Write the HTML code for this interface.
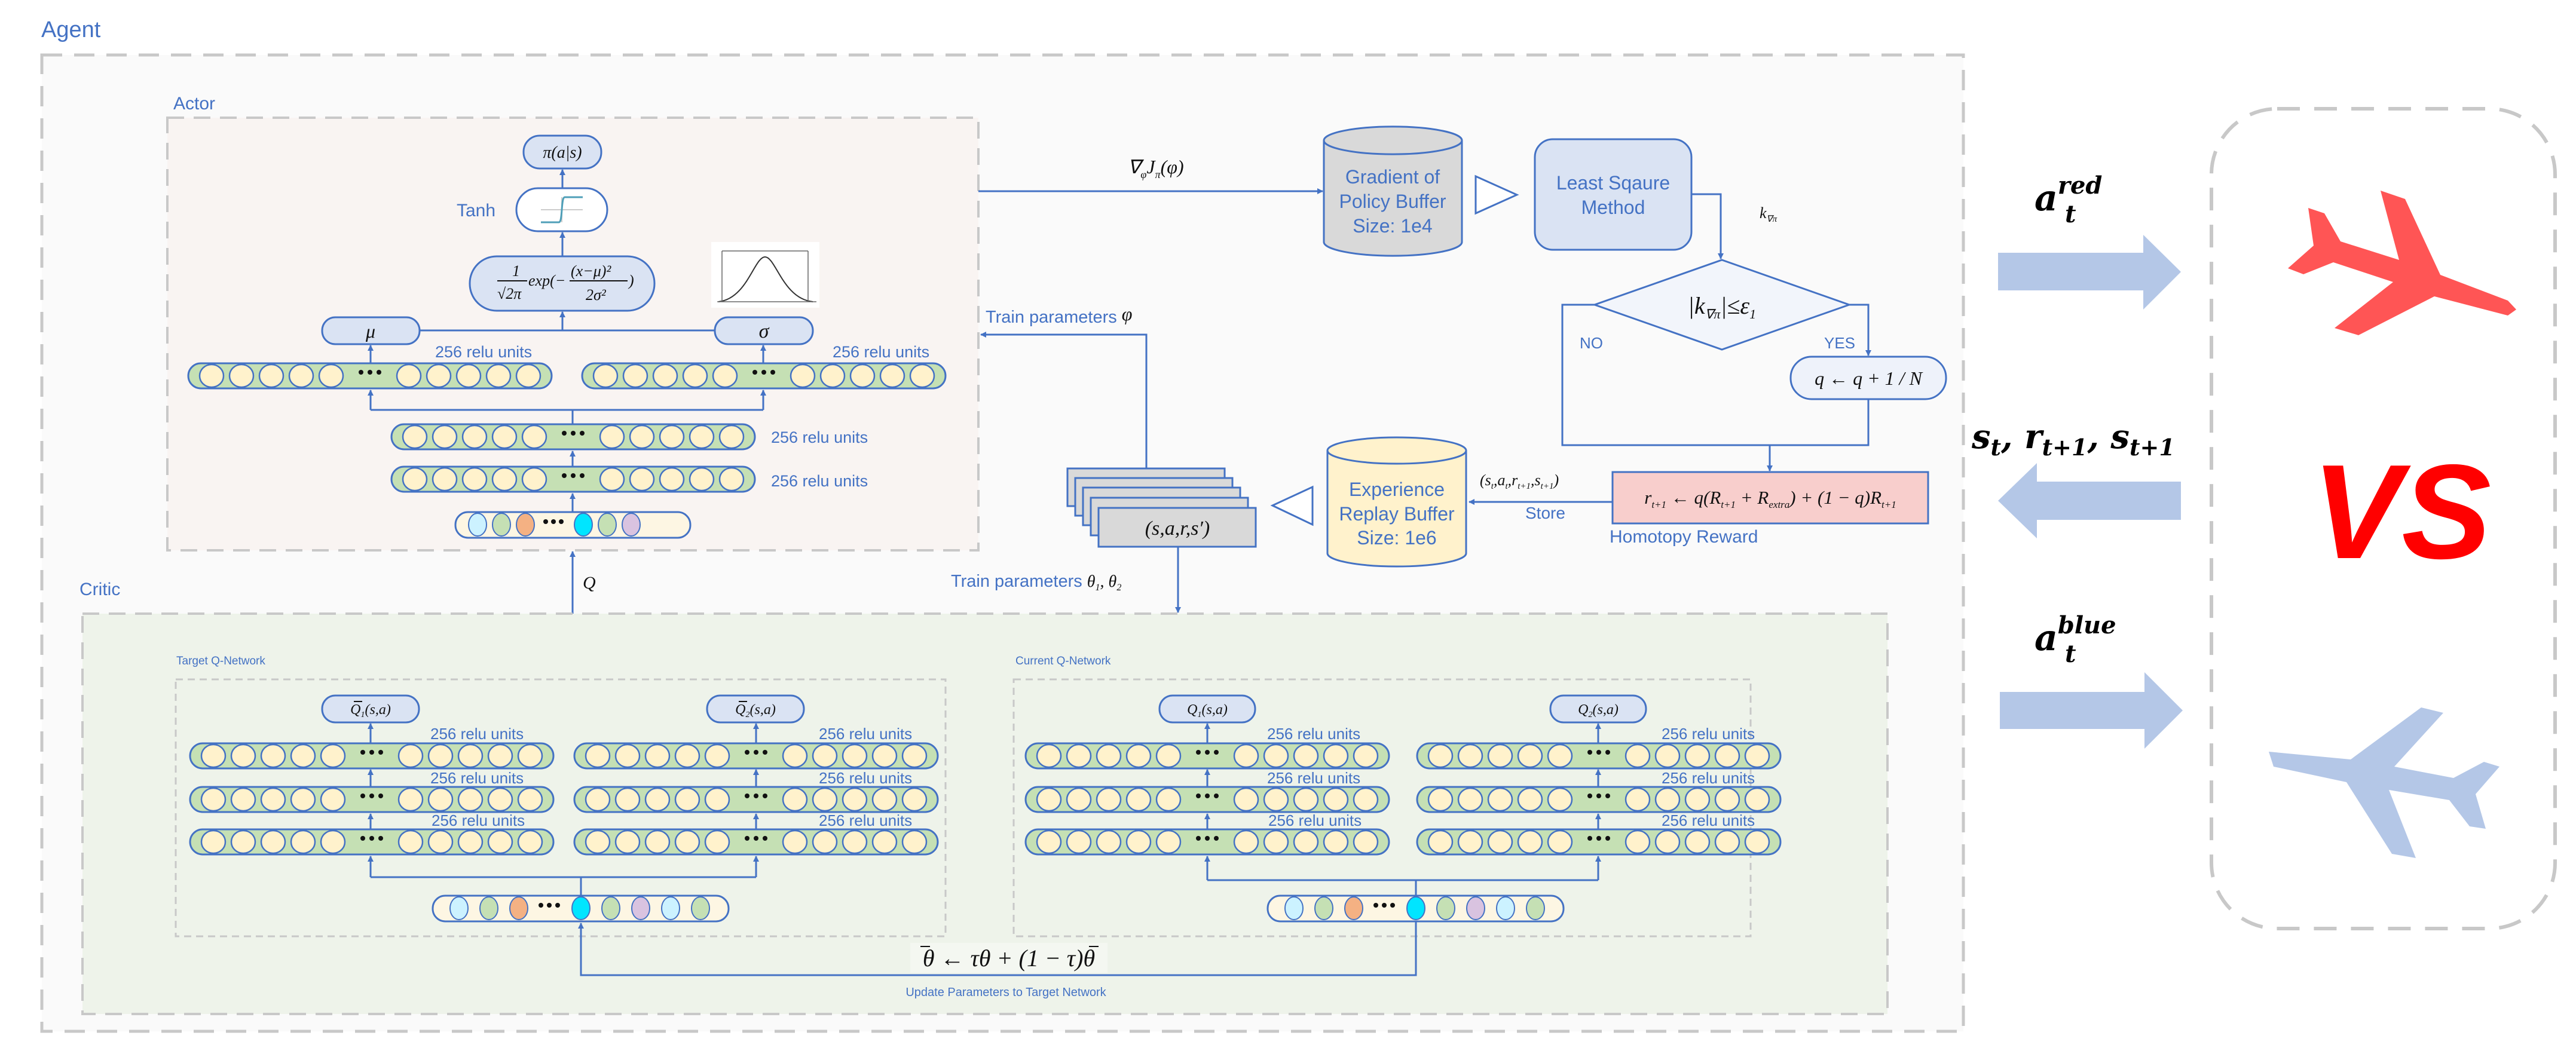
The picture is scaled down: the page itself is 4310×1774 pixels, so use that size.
<!DOCTYPE html>
<html><head><meta charset="utf-8"><style>
html,body{margin:0;padding:0;background:#fff}
svg{display:block}
.s{font-family:"Liberation Sans Narrow","Liberation Sans",sans-serif;fill:#4472c4}
.m{font-family:"Liberation Serif",serif;font-style:italic;fill:#111}
</style></head><body>
<svg width="4310" height="1774" viewBox="0 0 4310 1774" xmlns="http://www.w3.org/2000/svg">
<defs>
<marker id="ar" markerWidth="10" markerHeight="10" refX="9" refY="5" orient="auto" markerUnits="userSpaceOnUse" viewBox="0 0 10 10"><path d="M0,0 L10,5 L0,10 z" fill="#4472c4"/></marker>
<g id="layer">
<rect x="1" y="1" width="608" height="42" rx="21" fill="#c5e0b4" stroke="#4472c4" stroke-width="3"/>
<g fill="#fff2cc" stroke="#4472c4" stroke-width="2.5">
<ellipse cx="40" cy="22" rx="20" ry="19"/><ellipse cx="90" cy="22" rx="20" ry="19"/><ellipse cx="140" cy="22" rx="20" ry="19"/><ellipse cx="190" cy="22" rx="20" ry="19"/><ellipse cx="240" cy="22" rx="20" ry="19"/>
<ellipse cx="370" cy="22" rx="20" ry="19"/><ellipse cx="420" cy="22" rx="20" ry="19"/><ellipse cx="470" cy="22" rx="20" ry="19"/><ellipse cx="520" cy="22" rx="20" ry="19"/><ellipse cx="570" cy="22" rx="20" ry="19"/>
</g>
<g fill="#111"><circle cx="290" cy="16" r="4"/><circle cx="305" cy="16" r="4"/><circle cx="320" cy="16" r="4"/></g>
</g>
<g id="inA">
<rect x="1" y="1" width="393" height="43" rx="21" fill="#fdf6e3" stroke="#4472c4" stroke-width="3"/>
<g stroke="#4472c4" stroke-width="2">
<ellipse cx="38" cy="22" rx="15" ry="19" fill="#ccf2ff"/><ellipse cx="78" cy="22" rx="15" ry="19" fill="#c5e0b4"/><ellipse cx="118" cy="22" rx="15" ry="19" fill="#f4b183"/>
<ellipse cx="215" cy="22" rx="15" ry="19" fill="#00e5ff"/><ellipse cx="255" cy="22" rx="15" ry="19" fill="#c5e0b4"/><ellipse cx="295" cy="22" rx="15" ry="19" fill="#d9c3e0"/>
</g>
<g fill="#111"><circle cx="152" cy="17" r="4"/><circle cx="165" cy="17" r="4"/><circle cx="178" cy="17" r="4"/></g>
</g>
<g id="inC">
<rect x="1" y="1" width="495" height="43" rx="21" fill="#fdf6e3" stroke="#4472c4" stroke-width="3"/>
<g stroke="#4472c4" stroke-width="2">
<ellipse cx="45" cy="22" rx="15" ry="19" fill="#ccf2ff"/><ellipse cx="95" cy="22" rx="15" ry="19" fill="#c5e0b4"/><ellipse cx="145" cy="22" rx="15" ry="19" fill="#f4b183"/>
<ellipse cx="249" cy="22" rx="15" ry="19" fill="#00e5ff"/><ellipse cx="299" cy="22" rx="15" ry="19" fill="#c5e0b4"/><ellipse cx="349" cy="22" rx="15" ry="19" fill="#d9c3e0"/>
<ellipse cx="399" cy="22" rx="15" ry="19" fill="#ccf2ff"/><ellipse cx="449" cy="22" rx="15" ry="19" fill="#c5e0b4"/>
</g>
<g fill="#111"><circle cx="182" cy="17" r="4"/><circle cx="196" cy="17" r="4"/><circle cx="210" cy="17" r="4"/></g>
</g>
</defs>

<text x="69" y="62" class="s" font-size="38">Agent</text>
<rect x="70" y="92" width="3215" height="1634" fill="#fafafa" stroke="#c8c8c8" stroke-width="5" stroke-dasharray="34,20"/>

<text x="290" y="183" class="s" font-size="30">Actor</text>
<rect x="280" y="197" width="1357" height="724" fill="#f9f4f2" stroke="#c8c8c8" stroke-width="4" stroke-dasharray="28,16"/>
<rect x="876" y="227" width="130" height="55" rx="27" fill="#dae3f3" stroke="#4472c4" stroke-width="3"/>
<text x="941" y="264" class="m" font-size="28" text-anchor="middle">π(a|s)</text>
<line x1="941" y1="315" x2="941" y2="284" stroke="#4472c4" stroke-width="3" marker-end="url(#ar)"/>
<rect x="864" y="315" width="152" height="72" rx="36" fill="#fff" stroke="#4472c4" stroke-width="3"/>
<path d="M905,351 H975 M940,330 V372" stroke="#ccc" stroke-width="2"/>
<path d="M905,372 H935 C942,372 938,330 945,330 H975" fill="none" stroke="#4f9fb8" stroke-width="3"/>
<text x="764" y="362" class="s" font-size="30">Tanh</text>
<line x1="941" y1="429" x2="941" y2="389" stroke="#4472c4" stroke-width="3" marker-end="url(#ar)"/>
<rect x="786" y="429" width="309" height="91" rx="45" fill="#dae3f3" stroke="#4472c4" stroke-width="3"/>
<text x="857" y="462" class="m" font-size="26" font-style="normal">1</text>
<line x1="832" y1="470" x2="882" y2="470" stroke="#111" stroke-width="2"/>
<text x="832" y="500" class="m" font-size="26">√2π</text>
<text x="884" y="478" class="m" font-size="26" font-style="normal">exp(−</text>
<text x="955" y="462" class="m" font-size="26">(x−μ)²</text>
<line x1="953" y1="470" x2="1050" y2="470" stroke="#111" stroke-width="2"/>
<text x="980" y="502" class="m" font-size="26">2σ²</text>
<text x="1052" y="478" class="m" font-size="26" font-style="normal">)</text>
<rect x="1190" y="405" width="181" height="110" fill="#fff"/>
<path d="M1202,505 C1250,500 1262,430 1280,430 C1298,430 1310,500 1360,505" fill="none" stroke="#333" stroke-width="2"/>
<path d="M1200,505 H1366 M1208,420 V505 M1352,420 V505 M1208,420 H1352" fill="none" stroke="#666" stroke-width="1.5"/>
<rect x="539" y="531" width="163" height="45" rx="22" fill="#dae3f3" stroke="#4472c4" stroke-width="3"/>
<text x="620" y="565" class="m" font-size="32" text-anchor="middle">μ</text>
<rect x="1196" y="531" width="164" height="45" rx="22" fill="#dae3f3" stroke="#4472c4" stroke-width="3"/>
<text x="1278" y="565" class="m" font-size="34" text-anchor="middle">σ</text>
<line x1="702" y1="553" x2="1196" y2="553" stroke="#4472c4" stroke-width="3"/>
<line x1="941" y1="553" x2="941" y2="522" stroke="#4472c4" stroke-width="3" marker-end="url(#ar)"/>
<line x1="620" y1="607" x2="620" y2="578" stroke="#4472c4" stroke-width="3" marker-end="url(#ar)"/>
<line x1="1277" y1="607" x2="1277" y2="578" stroke="#4472c4" stroke-width="3" marker-end="url(#ar)"/>
<text x="728" y="598" class="s" font-size="27">256 relu units</text>
<text x="1393" y="598" class="s" font-size="27">256 relu units</text>
<use href="#layer" x="314" y="607"/>
<use href="#layer" x="973" y="607"/>
<path d="M958,709 V686 M620,686 H1277" stroke="#4472c4" stroke-width="3" fill="none"/>
<line x1="620" y1="686" x2="620" y2="653" stroke="#4472c4" stroke-width="3" marker-end="url(#ar)"/>
<line x1="1277" y1="686" x2="1277" y2="653" stroke="#4472c4" stroke-width="3" marker-end="url(#ar)"/>
<use href="#layer" x="654" y="709"/>
<text x="1290" y="741" class="s" font-size="27">256 relu units</text>
<line x1="958" y1="780" x2="958" y2="755" stroke="#4472c4" stroke-width="3" marker-end="url(#ar)"/>
<use href="#layer" x="654" y="780"/>
<text x="1290" y="814" class="s" font-size="27">256 relu units</text>
<line x1="958" y1="856" x2="958" y2="826" stroke="#4472c4" stroke-width="3" marker-end="url(#ar)"/>
<use href="#inA" x="761" y="856"/>
<line x1="958" y1="1027" x2="958" y2="923" stroke="#4472c4" stroke-width="3" marker-end="url(#ar)"/>
<text x="975" y="985" class="m" font-size="30">Q</text>

<line x1="1637" y1="320" x2="2213" y2="320" stroke="#4472c4" stroke-width="3" marker-end="url(#ar)"/>
<text x="1887" y="290" class="m" font-size="32">∇<tspan font-size="18" dy="8">φ</tspan><tspan dy="-8">J</tspan><tspan font-size="18" dy="8">π</tspan><tspan dy="-8">(φ)</tspan></text>
<path d="M2215,235 V405 A115,23 0 0 0 2446,405 V235 A115,23 0 0 0 2215,235 Z" fill="#d9d9d9" stroke="#4472c4" stroke-width="3"/>
<path d="M2215,235 A115,23 0 0 0 2446,235" fill="none" stroke="#4472c4" stroke-width="3"/>
<text x="2330" y="307" class="s" font-size="32" text-anchor="middle">Gradient of</text>
<text x="2330" y="348" class="s" font-size="32" text-anchor="middle">Policy Buffer</text>
<text x="2330" y="389" class="s" font-size="32" text-anchor="middle">Size: 1e4</text>
<path d="M2469,295 L2538,326 L2469,357 Z" fill="#fff" stroke="#4472c4" stroke-width="3"/>
<rect x="2568" y="233" width="262" height="185" rx="30" fill="#dae3f3" stroke="#4472c4" stroke-width="3"/>
<text x="2699" y="317" class="s" font-size="32" text-anchor="middle">Least Sqaure</text>
<text x="2699" y="358" class="s" font-size="32" text-anchor="middle">Method</text>
<path d="M2830,325 H2879 V433" fill="none" stroke="#4472c4" stroke-width="3" marker-end="url(#ar)"/>
<text x="2944" y="365" class="m" font-size="26">k<tspan font-size="15" dy="6">∇π</tspan></text>
<path d="M2881,435 L3094,510 L2881,585 L2668,510 Z" fill="#f2f5fb" stroke="#4472c4" stroke-width="3"/>
<text x="2881" y="525" class="m" font-size="40" text-anchor="middle">|k<tspan font-size="22" dy="8">∇π</tspan><tspan dy="-8">|≤ε</tspan><tspan font-size="22" dy="8">1</tspan></text>
<path d="M2668,510 H2614 V745 H3126 V668" fill="none" stroke="#4472c4" stroke-width="3"/>
<path d="M3094,510 H3126 V595" fill="none" stroke="#4472c4" stroke-width="3" marker-end="url(#ar)"/>
<text x="2643" y="583" class="s" font-size="26">NO</text>
<text x="3052" y="583" class="s" font-size="26">YES</text>
<rect x="2996" y="597" width="260" height="71" rx="35" fill="#eef2fa" stroke="#4472c4" stroke-width="3"/>
<text x="3126" y="644" class="m" font-size="32" text-anchor="middle">q ← q + 1 / N</text>
<line x1="2961" y1="745" x2="2961" y2="788" stroke="#4472c4" stroke-width="3" marker-end="url(#ar)"/>
<rect x="2698" y="790" width="528" height="86" fill="#f8cecc" stroke="#4472c4" stroke-width="3"/>
<text x="2962" y="843" class="m" font-size="31" text-anchor="middle">r<tspan font-size="17" dy="7">t+1</tspan><tspan dy="-7"> ← q(R</tspan><tspan font-size="17" dy="7">t+1</tspan><tspan dy="-7"> + R</tspan><tspan font-size="17" dy="7">extra</tspan><tspan dy="-7">) + (1 − q)R</tspan><tspan font-size="17" dy="7">t+1</tspan></text>
<text x="2693" y="908" class="s" font-size="30">Homotopy Reward</text>
<line x1="2698" y1="840" x2="2458" y2="840" stroke="#4472c4" stroke-width="3" marker-end="url(#ar)"/>
<text x="2552" y="868" class="s" font-size="28">Store</text>
<text x="2476" y="812" class="m" font-size="26">(s<tspan font-size="15" dy="6">t</tspan><tspan dy="-6">,a</tspan><tspan font-size="15" dy="6">t</tspan><tspan dy="-6">,r</tspan><tspan font-size="15" dy="6">t+1</tspan><tspan dy="-6">,s</tspan><tspan font-size="15" dy="6">t+1</tspan><tspan dy="-6">)</tspan></text>
<path d="M2221,754 V926 A116,22 0 0 0 2453,926 V754 A116,22 0 0 0 2221,754 Z" fill="#fff2cc" stroke="#4472c4" stroke-width="3"/>
<path d="M2221,754 A116,22 0 0 0 2453,754" fill="none" stroke="#4472c4" stroke-width="3"/>
<text x="2337" y="830" class="s" font-size="32" text-anchor="middle">Experience</text>
<text x="2337" y="871" class="s" font-size="32" text-anchor="middle">Replay Buffer</text>
<text x="2337" y="911" class="s" font-size="32" text-anchor="middle">Size: 1e6</text>
<path d="M2196,815 L2129,846 L2196,878 Z" fill="#fff" stroke="#4472c4" stroke-width="3"/>
<g fill="#d9d9d9" stroke="#4472c4" stroke-width="3">
<rect x="1786" y="784" width="263" height="63"/>
<rect x="1799" y="800" width="263" height="63"/>
<rect x="1812" y="816" width="263" height="63"/>
<rect x="1825" y="833" width="263" height="63"/>
<rect x="1838" y="850" width="263" height="65"/>
</g>
<text x="1970" y="895" class="m" font-size="34" text-anchor="middle">(s,a,r,s′)</text>
<path d="M1918,784 V560 H1641" fill="none" stroke="#4472c4" stroke-width="3" marker-end="url(#ar)"/>
<text x="1649" y="540" class="s" font-size="29">Train parameters <tspan class="m" font-size="32" dy="-4">φ</tspan></text>
<line x1="1971" y1="915" x2="1971" y2="1025" stroke="#4472c4" stroke-width="3" marker-end="url(#ar)"/>
<text x="1591" y="982" class="s" font-size="29">Train parameters <tspan class="m" font-size="28">θ</tspan><tspan class="m" font-size="16" dy="6">1</tspan><tspan class="m" font-size="28" dy="-6">, θ</tspan><tspan class="m" font-size="16" dy="6">2</tspan></text>

<text x="133" y="996" class="s" font-size="30">Critic</text>
<rect x="138" y="1027" width="3020" height="670" fill="#eef3ea" stroke="#c8c8c8" stroke-width="4" stroke-dasharray="28,16"/>
<text x="295" y="1112" class="s" font-size="19">Target Q-Network</text>
<rect x="294" y="1137" width="1288" height="430" fill="none" stroke="#c8c8c8" stroke-width="3" stroke-dasharray="12,8"/>
<text x="1699" y="1112" class="s" font-size="19">Current Q-Network</text>
<rect x="1696" y="1137" width="1233" height="430" fill="none" stroke="#c8c8c8" stroke-width="3" stroke-dasharray="12,8"/>

<g>
<rect x="539" y="1164" width="162" height="45" rx="22" fill="#dae3f3" stroke="#4472c4" stroke-width="3"/>
<line x1="592" y1="1174" x2="606" y2="1174" stroke="#111" stroke-width="2"/>
<text x="620" y="1195" class="m" font-size="24" text-anchor="middle">Q<tspan font-size="14" dy="5">1</tspan><tspan dy="-5">(s,a)</tspan></text>
<rect x="1183" y="1164" width="162" height="45" rx="22" fill="#dae3f3" stroke="#4472c4" stroke-width="3"/>
<line x1="1236" y1="1174" x2="1250" y2="1174" stroke="#111" stroke-width="2"/>
<text x="1264" y="1195" class="m" font-size="24" text-anchor="middle">Q<tspan font-size="14" dy="5">2</tspan><tspan dy="-5">(s,a)</tspan></text>
<use href="#layer" x="317" y="1243"/>
<use href="#layer" x="317" y="1316"/>
<use href="#layer" x="317" y="1387"/>
<use href="#layer" x="960" y="1243"/>
<use href="#layer" x="960" y="1316"/>
<use href="#layer" x="960" y="1387"/>
<g stroke="#4472c4" stroke-width="3" marker-end="url(#ar)">
<line x1="620" y1="1243" x2="620" y2="1211"/><line x1="620" y1="1316" x2="620" y2="1288"/><line x1="620" y1="1387" x2="620" y2="1362"/>
<line x1="1265" y1="1243" x2="1265" y2="1211"/><line x1="1265" y1="1316" x2="1265" y2="1288"/><line x1="1265" y1="1387" x2="1265" y2="1362"/>
<line x1="620" y1="1468" x2="620" y2="1433"/><line x1="1265" y1="1468" x2="1265" y2="1433"/>
</g>
<path d="M620,1468 H1265 M972,1468 V1498" stroke="#4472c4" stroke-width="3" fill="none"/>
<text x="720" y="1237" class="s" font-size="26">256 relu units</text>
<text x="720" y="1311" class="s" font-size="26">256 relu units</text>
<text x="722" y="1382" class="s" font-size="26">256 relu units</text>
<text x="1370" y="1237" class="s" font-size="26">256 relu units</text>
<text x="1370" y="1311" class="s" font-size="26">256 relu units</text>
<text x="1370" y="1382" class="s" font-size="26">256 relu units</text>
<use href="#inC" x="723" y="1498"/>
</g>
<g>
<rect x="1940" y="1164" width="160" height="45" rx="22" fill="#dae3f3" stroke="#4472c4" stroke-width="3"/>
<text x="2020" y="1195" class="m" font-size="24" text-anchor="middle">Q<tspan font-size="14" dy="5">1</tspan><tspan dy="-5">(s,a)</tspan></text>
<rect x="2594" y="1164" width="160" height="45" rx="22" fill="#dae3f3" stroke="#4472c4" stroke-width="3"/>
<text x="2674" y="1195" class="m" font-size="24" text-anchor="middle">Q<tspan font-size="14" dy="5">2</tspan><tspan dy="-5">(s,a)</tspan></text>
<use href="#layer" x="1715" y="1243"/>
<use href="#layer" x="1715" y="1316"/>
<use href="#layer" x="1715" y="1387"/>
<use href="#layer" x="2370" y="1243"/>
<use href="#layer" x="2370" y="1316"/>
<use href="#layer" x="2370" y="1387"/>
<g stroke="#4472c4" stroke-width="3" marker-end="url(#ar)">
<line x1="2020" y1="1243" x2="2020" y2="1211"/><line x1="2020" y1="1316" x2="2020" y2="1288"/><line x1="2020" y1="1387" x2="2020" y2="1362"/>
<line x1="2674" y1="1243" x2="2674" y2="1211"/><line x1="2674" y1="1316" x2="2674" y2="1288"/><line x1="2674" y1="1387" x2="2674" y2="1362"/>
<line x1="2020" y1="1473" x2="2020" y2="1433"/><line x1="2674" y1="1473" x2="2674" y2="1433"/>
</g>
<path d="M2020,1473 H2674 M2369,1473 V1498" stroke="#4472c4" stroke-width="3" fill="none"/>
<text x="2120" y="1237" class="s" font-size="26">256 relu units</text>
<text x="2120" y="1311" class="s" font-size="26">256 relu units</text>
<text x="2122" y="1382" class="s" font-size="26">256 relu units</text>
<text x="2780" y="1237" class="s" font-size="26">256 relu units</text>
<text x="2780" y="1311" class="s" font-size="26">256 relu units</text>
<text x="2780" y="1382" class="s" font-size="26">256 relu units</text>
<use href="#inC" x="2120" y="1498"/>
</g>
<path d="M2369,1543 V1632 H972 V1545" fill="none" stroke="#4472c4" stroke-width="3" marker-end="url(#ar)"/>
<rect x="1523" y="1578" width="330" height="50" fill="#f4f7f1"/>
<line x1="1540" y1="1584" x2="1556" y2="1584" stroke="#111" stroke-width="2"/>
<line x1="1822" y1="1584" x2="1838" y2="1584" stroke="#111" stroke-width="2"/>
<text x="1688" y="1617" class="m" font-size="40" text-anchor="middle">θ ← τθ + (1 − τ)θ</text>
<text x="1683" y="1667" class="s" font-size="20" text-anchor="middle">Update Parameters to Target Network</text>

<text x="3404" y="352" font-family="DejaVu Serif,serif" font-weight="bold" font-style="italic" font-size="60" fill="#000">a<tspan font-size="40" dy="-28">red</tspan></text>
<text x="3455" y="372" font-family="DejaVu Serif,serif" font-weight="bold" font-style="italic" font-size="40" fill="#000">t</text>
<path d="M3343,423 H3586 V393 L3649,455 L3586,518 V486 H3343 Z" fill="#b4c7e7"/>
<text x="3299" y="750" font-family="DejaVu Serif,serif" font-weight="bold" font-style="italic" font-size="56" fill="#000">s<tspan font-size="38" dy="12">t</tspan><tspan dy="-12">, r</tspan><tspan font-size="38" dy="12">t+1</tspan><tspan dy="-12">, s</tspan><tspan font-size="38" dy="12">t+1</tspan></text>
<path d="M3649,806 H3408 V775 L3343,838 L3408,901 V870 H3649 Z" fill="#b4c7e7"/>
<text x="3404" y="1088" font-family="DejaVu Serif,serif" font-weight="bold" font-style="italic" font-size="60" fill="#000">a<tspan font-size="40" dy="-28">blue</tspan></text>
<text x="3455" y="1108" font-family="DejaVu Serif,serif" font-weight="bold" font-style="italic" font-size="40" fill="#000">t</text>
<path d="M3346,1158 H3588 V1125 L3652,1189 L3588,1253 V1220 H3346 Z" fill="#b4c7e7"/>
<rect x="3700" y="182" width="575" height="1372" rx="110" fill="none" stroke="#c8c8c8" stroke-width="6" stroke-dasharray="38,24"/>
<polygon points="3862,348 3889,357 3916,404 4014,435 3983,319 4024,333 4083,460 4196,503 4210,518 4196,528 4073,496 3946,561 3906,549 4004,472 3904,439 3854,459 3828,449 3871,411" fill="#ff5555"/>
<polygon points="3796,1258 3933,1271 4051,1184 4088,1193 4006,1283 4105,1302 4156,1275 4182,1283 4142,1329 4159,1387 4132,1383 4098,1339 3997,1322 4042,1436 4002,1429 3926,1309 3804,1283" fill="#b4c7e7"/>
<text x="3868" y="934" font-family="Liberation Sans,sans-serif" font-weight="bold" font-style="italic" font-size="225" fill="#ff0000">VS</text>
</svg>
</body></html>
